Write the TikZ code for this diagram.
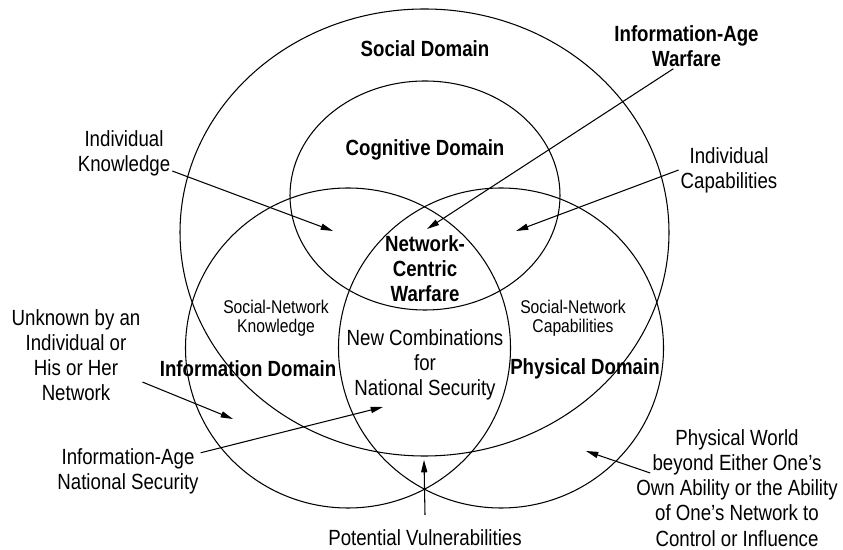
\documentclass[tikz,border=0pt]{standalone}
\usepackage{fontspec}
\setmainfont{Liberation Sans}[FakeStretch=0.85]
\usetikzlibrary{arrows.meta}

\begin{document}
\begin{tikzpicture}[
  ring/.style={draw=black, line width=0.6pt},
  note/.style={align=center, inner sep=1pt, font=\fontsize{12.5}{14.3}\selectfont},
  headline/.style={note, font=\fontsize{12.5}{14.3}\selectfont\bfseries},
  region/.style={align=center, inner sep=1pt, font=\fontsize{10.5}{11.1}\selectfont},
  arrow/.style={-{Triangle[length=7pt, width=3.5pt]}, line width=0.6pt}
]
  \useasboundingbox (0,0) rectangle (16.86,11);

  % domains
  \draw[ring] (8.49,6.35) ellipse [x radius=4.89, y radius=4.47];
  \draw[ring] (8.50,7.09) ellipse [x radius=2.70, y radius=2.29];
  \draw[ring] (6.96,4.04) ellipse [x radius=3.25, y radius=3.20];
  \draw[ring] (10.02,4.04) ellipse [x radius=3.25, y radius=3.20];

  \node[headline] (social) at (8.50, 10.02) {Social Domain};
  \node[headline] (cognitive) at (8.50, 8.00) {Cognitive Domain};
  \node[headline] (infodom) at (4.96, 3.62) {Information Domain};
  \node[headline] (physdom) at (11.70, 3.62) {Physical Domain};
  \node[headline] (ncw) at (8.50, 5.62) {Network-\\Centric\\Warfare};
  \node[region] (snknow) at (5.52, 4.64) {Social-Network\\Knowledge};
  \node[region] (sncap) at (11.46, 4.64) {Social-Network\\Capabilities};
  \node[note] (newcomb) at (8.50, 3.70) {New Combinations\\for\\National Security};

  % outside labels
  \node[headline] (iawar) at (13.73, 10.08) {Information-Age\\Warfare};
  \node[note] (indknow) at (2.48, 7.94) {Individual\\Knowledge};
  \node[note] (indcap) at (14.58, 7.60) {Individual\\Capabilities};
  \node[note] (unknown) at (1.52, 3.90) {Unknown by an\\Individual or\\His or Her\\Network};
  \node[note] (iansec) at (2.56, 1.58) {Information-Age\\National Security};
  \node[note] (potvul) at (8.50, 0.24) {Potential Vulnerabilities};
  \node[note] (phyworld) at (14.74, 1.24) {Physical World\\beyond Either One’s\\Own Ability or the Ability\\of One’s Network to\\Control or Influence};

  \coordinate (knowtip) at (6.66, 6.38);
  \coordinate (wartip) at (8.54, 6.42);
  \coordinate (captip) at (10.32, 6.38);
  \coordinate (unknowntip) at (4.66, 2.62);
  \coordinate (sectip) at (7.66, 2.86);
  \coordinate (vultip) at (8.48, 1.80);
  \coordinate (worldtip) at (11.72, 1.98);

  \draw[arrow] (indknow) -- (knowtip);
  \draw[arrow] (iawar.240) -- (wartip);
  \draw[arrow] (indcap.west) -- (captip);
  \draw[arrow] (unknown) -- (unknowntip);
  \draw[arrow] (iansec) -- (sectip);
  \draw[arrow] ([yshift=0.26cm]potvul.north) -- (vultip);
  \draw[arrow] ([shift={(0.32,0.30)}]phyworld.west) -- (worldtip);
\end{tikzpicture}
\end{document}
